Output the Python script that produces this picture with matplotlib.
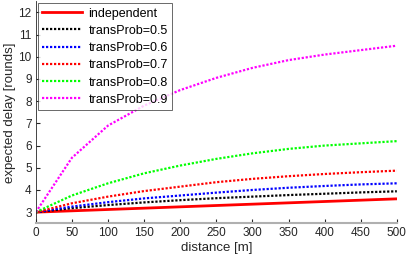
import matplotlib
matplotlib.use("Agg")
import matplotlib.pyplot as plt

plt.rcParams['font.family'] = ['Liberation Sans', 'DejaVu Sans']

distance = [0, 50, 100, 150, 200, 250, 300, 350, 400, 450, 500]
independent = [3.0, 3.06, 3.12, 3.18, 3.24, 3.30, 3.36, 3.42, 3.48, 3.54, 3.60]
p05 = [3.0, 3.18, 3.32, 3.44, 3.54, 3.63, 3.70, 3.77, 3.83, 3.89, 3.94]
p06 = [3.0, 3.25, 3.45, 3.62, 3.75, 3.88, 4.00, 4.10, 4.18, 4.25, 4.30]
p07 = [3.0, 3.40, 3.70, 3.95, 4.15, 4.35, 4.50, 4.62, 4.72, 4.80, 4.87]
p08 = [3.0, 3.75, 4.30, 4.75, 5.10, 5.40, 5.65, 5.85, 6.00, 6.10, 6.20]
p09 = [3.0, 5.45, 6.90, 7.80, 8.50, 9.05, 9.50, 9.85, 10.10, 10.30, 10.50]

labels = ['independent', 'transProb=0.5', 'transProb=0.6',
          'transProb=0.7', 'transProb=0.8', 'transProb=0.9']

fig = plt.figure(figsize=(4.07, 2.59), dpi=100)
ax = fig.add_axes([0.088, 0.138, 0.887, 0.857])

dots = (0, (1, 0.8))
ax.plot(distance, independent, color='red', lw=2, label=labels[0])
ax.plot(distance, p05, color='black', lw=1.6, ls=dots, label=labels[1])
ax.plot(distance, p06, color='blue', lw=1.6, ls=dots, label=labels[2])
ax.plot(distance, p07, color='red', lw=1.6, ls=dots, label=labels[3])
ax.plot(distance, p08, color='#00ff00', lw=1.6, ls=dots, label=labels[4])
ax.plot(distance, p09, color='magenta', lw=1.6, ls=dots, label=labels[5])

ax.set_xlim(0, 500)
ax.set_ylim(2.5, 12.5)
ax.set_xticks(range(0, 501, 50))
ax.set_yticks(range(3, 13))
ax.tick_params(direction='in', labelsize=8.5, colors='#262626', length=3, pad=3)
ax.set_xlabel('distance [m]', fontsize=9.5, color='#262626', labelpad=2)
ax.set_ylabel('expected delay [rounds]', fontsize=9.5, color='#262626', labelpad=2)

ax.spines['top'].set_visible(False)
ax.spines['right'].set_visible(False)
ax.spines['left'].set_color('#262626')
ax.spines['left'].set_linewidth(0.6)
ax.spines['bottom'].set_color('#b0b0b0')
ax.spines['bottom'].set_linewidth(1.5)

leg = ax.legend(loc='upper left', fontsize=9, frameon=True, fancybox=False,
                edgecolor='#262626', handlelength=3.2, borderaxespad=0.15,
                labelspacing=0.42, handletextpad=0.5, borderpad=0.35)
leg.get_frame().set_linewidth(0.6)

fig.savefig('out.png', dpi=100)
